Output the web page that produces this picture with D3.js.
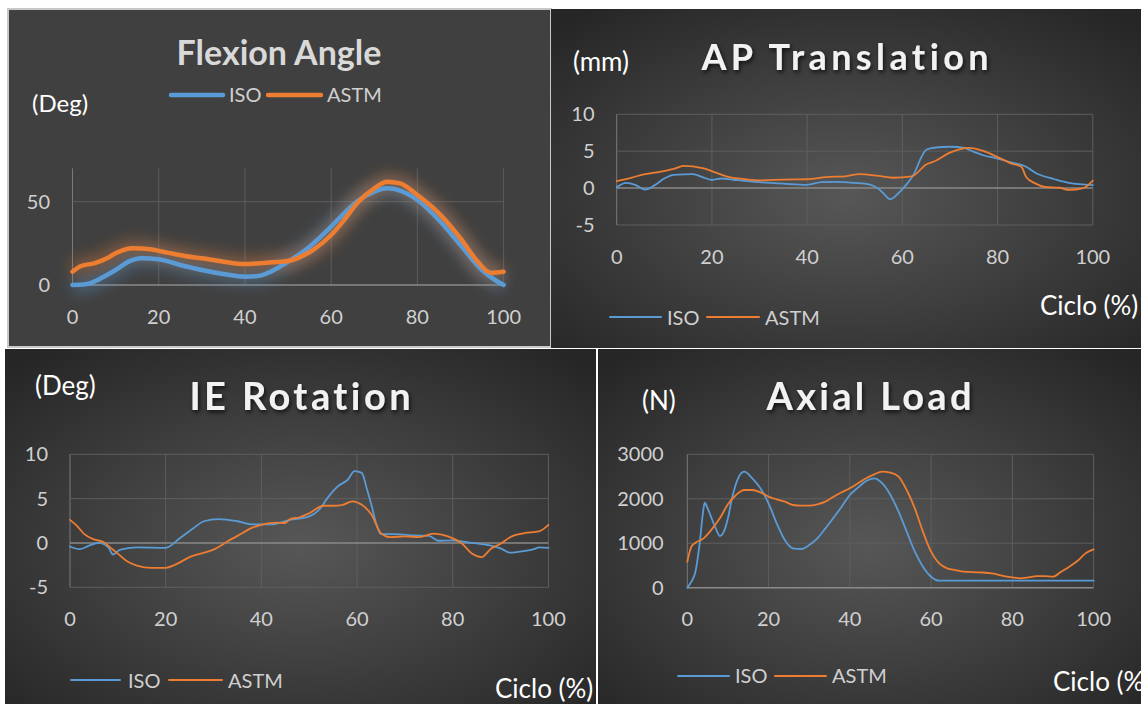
<!DOCTYPE html>
<html>
<head>
<meta charset="utf-8">
<script src="https://cdn.jsdelivr.net/npm/d3@7"></script>
<style>
  body { margin: 0; background: #fff; }
  svg { display: block; font-family: Lato, "Open Sans", sans-serif; }
</style>
</head>
<body>
<svg width="1141" height="704"></svg>
<script>
// ---- data (x = % of cycle) ----
const seriesNames = ["ISO", "ASTM"];
const xTicks = [0, 20, 40, 60, 80, 100];

const flexIsoX = [0,3,5,8,10,13,16,20,25,30,35,40,43,46,50,55,60,63,66,70,73,76,80,85,90,95,98,100];
const flexIsoY = [0,0.4,2,6,9,14,16,15.4,12,9,6.6,5,5.4,8,14,23,35,43,50,56,58,56.6,51,39,24,9,3,0];
const flexAstmX = [0,2,5,8,10,14,18,22,26,30,35,40,45,50,53,56,60,63,66,70,73,76,80,85,90,94,97,100];
const flexAstmY = [8,11.4,13,16,19,22,21.4,19.4,17.4,16,14,12.6,13.4,14.4,17,21.4,30,39,49,58,62,61,54,43,28,14,7.4,8];

const apIsoX = [0,2,4,6,8,10,12,16,18,20,22,25,30,35,40,43,46,50,53,55,56,57.5,59,61,62.5,64,65,67,70,73,75,77,80,83,86,88,92,95,100];
const apIsoY = [0.1,0.7,0.4,-0.2,0.4,1.3,1.8,1.9,1.5,1.1,1.3,1.1,0.8,0.6,0.45,0.8,0.85,0.7,0.5,-0.1,-0.7,-1.5,-0.8,0.6,2,4.2,5.2,5.5,5.6,5.45,4.9,4.45,4,3.45,2.9,2.05,1.2,0.7,0.4];
const apAstmX = [0,3,6,9,12,14,18,20,23,27,30,35,40,44,48,51,55,58,62,65,67,70,74,77,80,83,85,86,88,90,93,95,98,100];
const apAstmY = [0.95,1.4,1.9,2.2,2.6,3.0,2.7,2.3,1.6,1.2,1.05,1.15,1.2,1.5,1.6,1.9,1.65,1.4,1.6,3.2,3.7,4.8,5.45,5.05,4.2,3.3,2.9,1.5,0.6,0.15,0.05,-0.25,0,1.0];

const ieIsoX = [0,2,4,6,8,9,10,11,14,20,23,26,28,31,35,38,42,46,50,52,54,56,58,59.5,61,62,63,64,65,68,72,75,77,80,84,88,90,92,95,97,98,100];
const ieIsoY = [-0.4,-0.7,-0.3,0,-0.5,-1.3,-0.9,-0.7,-0.5,-0.55,0.55,1.75,2.45,2.7,2.45,2.1,2.1,2.6,3.0,3.7,5.2,6.4,7.1,8.1,7.9,6.2,4.3,2.2,1.0,1.0,0.85,0.8,0.25,0.3,0,-0.3,-0.6,-1.1,-0.9,-0.7,-0.5,-0.55];
const ieAstmX = [0,1.5,3,5,7,8.5,10,12,14,17,20,22,25,28,30,33,36,38,40,43,45,46,48,50,53,55,57,59,61,63,65,67,70,73,76,79,82,84,86,88,90,92,95,98,100];
const ieAstmY = [2.6,1.9,1.0,0.4,0.1,-0.55,-1.2,-2.1,-2.55,-2.8,-2.8,-2.45,-1.6,-1.1,-0.75,0.2,1.1,1.7,2.05,2.3,2.25,2.7,2.9,3.35,4.2,4.2,4.3,4.7,4.3,3.2,1.1,0.65,0.75,0.65,1.05,0.75,-0.1,-1.2,-1.6,-0.65,-0.1,0.65,1.1,1.3,2.05];

const axIsoX = [0,1,2,3,4,4.3,5,7,8,9,10,11,12.5,14,16,18,20,22,24,26,28,30,32,34,36,38,40,42,44,46,48,50,52,54,56,58,60,62,100];
const axIsoY = [0,135,360,960,1785,1912,1785,1335,1162,1260,1560,2010,2460,2610,2460,2235,1897,1447,1072,885,870,960,1110,1335,1575,1822,2085,2250,2400,2460,2347,2085,1710,1260,810,472,247,157,157];
const axAstmX = [0,1,2,4,6,8,10,12,14,16,18,20,22,24,26,28,30,32,34,36,38,40,42,44,46,48,50,52,54,56,58,60,62,64,66,68,72,75,78,80,82,84,86,88,90,92,94,96,98,100];
const axAstmY = [585,922,1012,1110,1312,1560,1875,2085,2197,2197,2145,2047,1987,1935,1860,1845,1845,1875,1935,2047,2145,2235,2347,2460,2550,2610,2587,2497,2197,1785,1260,810,547,435,397,360,345,322,262,232,210,232,262,262,247,360,472,600,772,862];

const blue = "#5b9bd5", orange = "#ed7d31";

const svg = d3.select("svg");
const defs = svg.append("defs");

const grad = defs.append("radialGradient").attr("id", "bg").attr("cx", "50%").attr("cy", "55%").attr("r", "70%");
grad.append("stop").attr("offset", "0%").attr("stop-color", "#575757");
grad.append("stop").attr("offset", "100%").attr("stop-color", "#262626");

const shadow = defs.append("filter").attr("id", "tshadow").attr("x", "-10%").attr("y", "-30%").attr("width", "120%").attr("height", "160%");
shadow.append("feDropShadow").attr("dx", 1.5).attr("dy", 2.5).attr("stdDeviation", 2).attr("flood-color", "#000").attr("flood-opacity", 0.7);

const glow = defs.append("filter").attr("id", "glow").attr("x", "-20%").attr("y", "-40%").attr("width", "140%").attr("height", "180%");
glow.append("feGaussianBlur").attr("stdDeviation", 7);

// panels: flexion (flat, bordered), others gradient
const panels = [
  {box: [8, 9, 543, 338], flat: true},
  {box: [551, 9, 590, 339], flat: false},
  {box: [5, 349, 591, 355], flat: false},
  {box: [598, 349, 543, 355], flat: false}
];
panels.forEach(p => {
  svg.append("rect")
    .attr("x", p.box[0]).attr("y", p.box[1]).attr("width", p.box[2]).attr("height", p.box[3])
    .attr("fill", p.flat ? "#404040" : "url(#bg)")
    .attr("stroke", p.flat ? "#c8c8c8" : "none")
    .attr("stroke-width", p.flat ? 2 : 0);
});

const charts = [
  {
    title: "Flexion Angle", titleX: 279, titleY: 65, titleSize: 34, spacing: 0, shadow: false,
    unit: "(Deg)", unitX: 32, unitY: 112, unitSize: 24,
    px: [72.5, 503.6], yDomain: [0, 70], py: [285, 168.3], yTicks: [0, 50],
    yLabelX: 50, xLabelY: 324, hGrid: [50], zeroVal: 0,
    iso: [flexIsoX, flexIsoY], astm: [flexAstmX, flexAstmY],
    lineW: 4.5, glow: true,
    legend: {y: 95, isoX: [171, 223], isoT: 229, astmX: [268, 321], astmT: 327, ty: 102},
    cyclo: null
  },
  {
    title: "AP Translation", titleX: 845, titleY: 70, titleSize: 36, spacing: 4.4, shadow: true,
    unit: "(mm)", unitX: 573, unitY: 71, unitSize: 26,
    px: [616.7, 1092.8], yDomain: [-5, 10], py: [225, 114.3], yTicks: [-5, 0, 5, 10],
    yLabelX: 594.5, xLabelY: 264, hGrid: [-5, 5, 10], zeroVal: 0,
    iso: [apIsoX, apIsoY], astm: [apAstmX, apAstmY],
    lineW: 1.8, glow: false,
    legend: {y: 317, isoX: [610, 661], isoT: 667, astmX: [707, 759], astmT: 765, ty: 325},
    cyclo: {x: 1040, y: 315}
  },
  {
    title: "IE Rotation", titleX: 300, titleY: 410, titleSize: 38, spacing: 3.4, shadow: true,
    unit: "(Deg)", unitX: 35, unitY: 395, unitSize: 26,
    px: [70, 548.4], yDomain: [-5, 10], py: [587.3, 454.3], yTicks: [-5, 0, 5, 10],
    yLabelX: 48, xLabelY: 626, hGrid: [-5, 5, 10], zeroVal: 0,
    iso: [ieIsoX, ieIsoY], astm: [ieAstmX, ieAstmY],
    lineW: 1.8, glow: false,
    legend: {y: 680, isoX: [71, 120], isoT: 128, astmX: [169, 222], astmT: 228, ty: 688},
    cyclo: {x: 495, y: 698}
  },
  {
    title: "Axial Load", titleX: 869, titleY: 410, titleSize: 38, spacing: 3.3, shadow: true,
    unit: "(N)", unitX: 642, unitY: 410, unitSize: 26,
    px: [687.3, 1093.6], yDomain: [0, 3000], py: [587.7, 454.3], yTicks: [0, 1000, 2000, 3000],
    yLabelX: 663.6, xLabelY: 626, hGrid: [1000, 2000, 3000], zeroVal: 0,
    iso: [axIsoX, axIsoY], astm: [axAstmX, axAstmY],
    lineW: 1.8, glow: false,
    legend: {y: 676, isoX: [678, 729], isoT: 735, astmX: [775, 826], astmT: 832, ty: 683},
    cyclo: {x: 1053, y: 691}
  }
];

charts.forEach(c => {
  const x = d3.scaleLinear().domain([0, 100]).range(c.px);
  const y = d3.scaleLinear().domain(c.yDomain).range(c.py);
  const g = svg.append("g");
  const gridCol = c.glow ? "#5c5c5c" : "#5e5e5e";

  // vertical gridlines
  g.selectAll(".vg").data(xTicks).join("line")
    .attr("x1", d => x(d)).attr("x2", d => x(d))
    .attr("y1", y(c.yDomain[0])).attr("y2", y(c.yDomain[1]))
    .attr("stroke", d => d === 0 ? "#7a7a7a" : gridCol).attr("stroke-width", 1);
  // horizontal gridlines
  g.selectAll(".hg").data(c.hGrid).join("line")
    .attr("x1", x(0)).attr("x2", x(100))
    .attr("y1", d => y(d)).attr("y2", d => y(d))
    .attr("stroke", gridCol).attr("stroke-width", 1);
  // zero axis line
  g.append("line")
    .attr("x1", x(0)).attr("x2", x(100))
    .attr("y1", y(c.zeroVal)).attr("y2", y(c.zeroVal))
    .attr("stroke", "#8a8a8a").attr("stroke-width", 1.5);

  // axes labels
  g.selectAll(".yl").data(c.yTicks).join("text")
    .attr("x", c.yLabelX).attr("y", d => y(d) + 7)
    .attr("text-anchor", "end").attr("fill", "#d0d0d0").attr("font-size", 20)
    .text(d => d);
  g.selectAll(".xl").data(xTicks).join("text")
    .attr("x", d => x(d)).attr("y", c.xLabelY)
    .attr("text-anchor", "middle").attr("fill", "#d0d0d0").attr("font-size", 20)
    .text(d => d);

  const line = d3.line().x(d => x(d[0])).y(d => y(d[1])).curve(d3.curveMonotoneX);
  const sets = [[c.iso, blue], [c.astm, orange]];
  if (c.glow) {
    sets.forEach(([s, col]) => {
      g.append("path").attr("d", line(d3.zip(s[0], s[1])))
        .attr("fill", "none").attr("stroke", col).attr("stroke-width", 16)
        .attr("stroke-opacity", 0.35).attr("filter", "url(#glow)");
    });
  }
  sets.forEach(([s, col]) => {
    g.append("path").attr("d", line(d3.zip(s[0], s[1])))
      .attr("fill", "none").attr("stroke", col).attr("stroke-width", c.lineW)
      .attr("stroke-linejoin", "round").attr("stroke-linecap", "round");
  });

  // title
  g.append("text")
    .attr("x", c.titleX + c.spacing / 2).attr("y", c.titleY)
    .attr("text-anchor", "middle").attr("font-weight", 700)
    .attr("font-size", c.titleSize).attr("letter-spacing", c.spacing)
    .attr("fill", c.shadow ? "#f2f2f2" : "#d9d9d9")
    .attr("filter", c.shadow ? "url(#tshadow)" : null)
    .text(c.title);

  g.append("text").attr("x", c.unitX).attr("y", c.unitY)
    .attr("fill", "#ffffff").attr("font-size", c.unitSize).text(c.unit);

  // legend
  const L = c.legend;
  const lw = c.glow ? 4.5 : 2;
  [[L.isoX, L.isoT, blue, seriesNames[0]], [L.astmX, L.astmT, orange, seriesNames[1]]].forEach(([lx, tx, col, name]) => {
    g.append("line").attr("x1", lx[0]).attr("x2", lx[1]).attr("y1", L.y).attr("y2", L.y)
      .attr("stroke", col).attr("stroke-width", lw).attr("stroke-linecap", "round");
    g.append("text").attr("x", tx).attr("y", L.ty)
      .attr("fill", "#d0d0d0").attr("font-size", 20).text(name);
  });

  if (c.cyclo) {
    g.append("text").attr("x", c.cyclo.x).attr("y", c.cyclo.y)
      .attr("fill", "#ffffff").attr("font-size", 26).text("Ciclo (%)");
  }
});
</script>
</body>
</html>
